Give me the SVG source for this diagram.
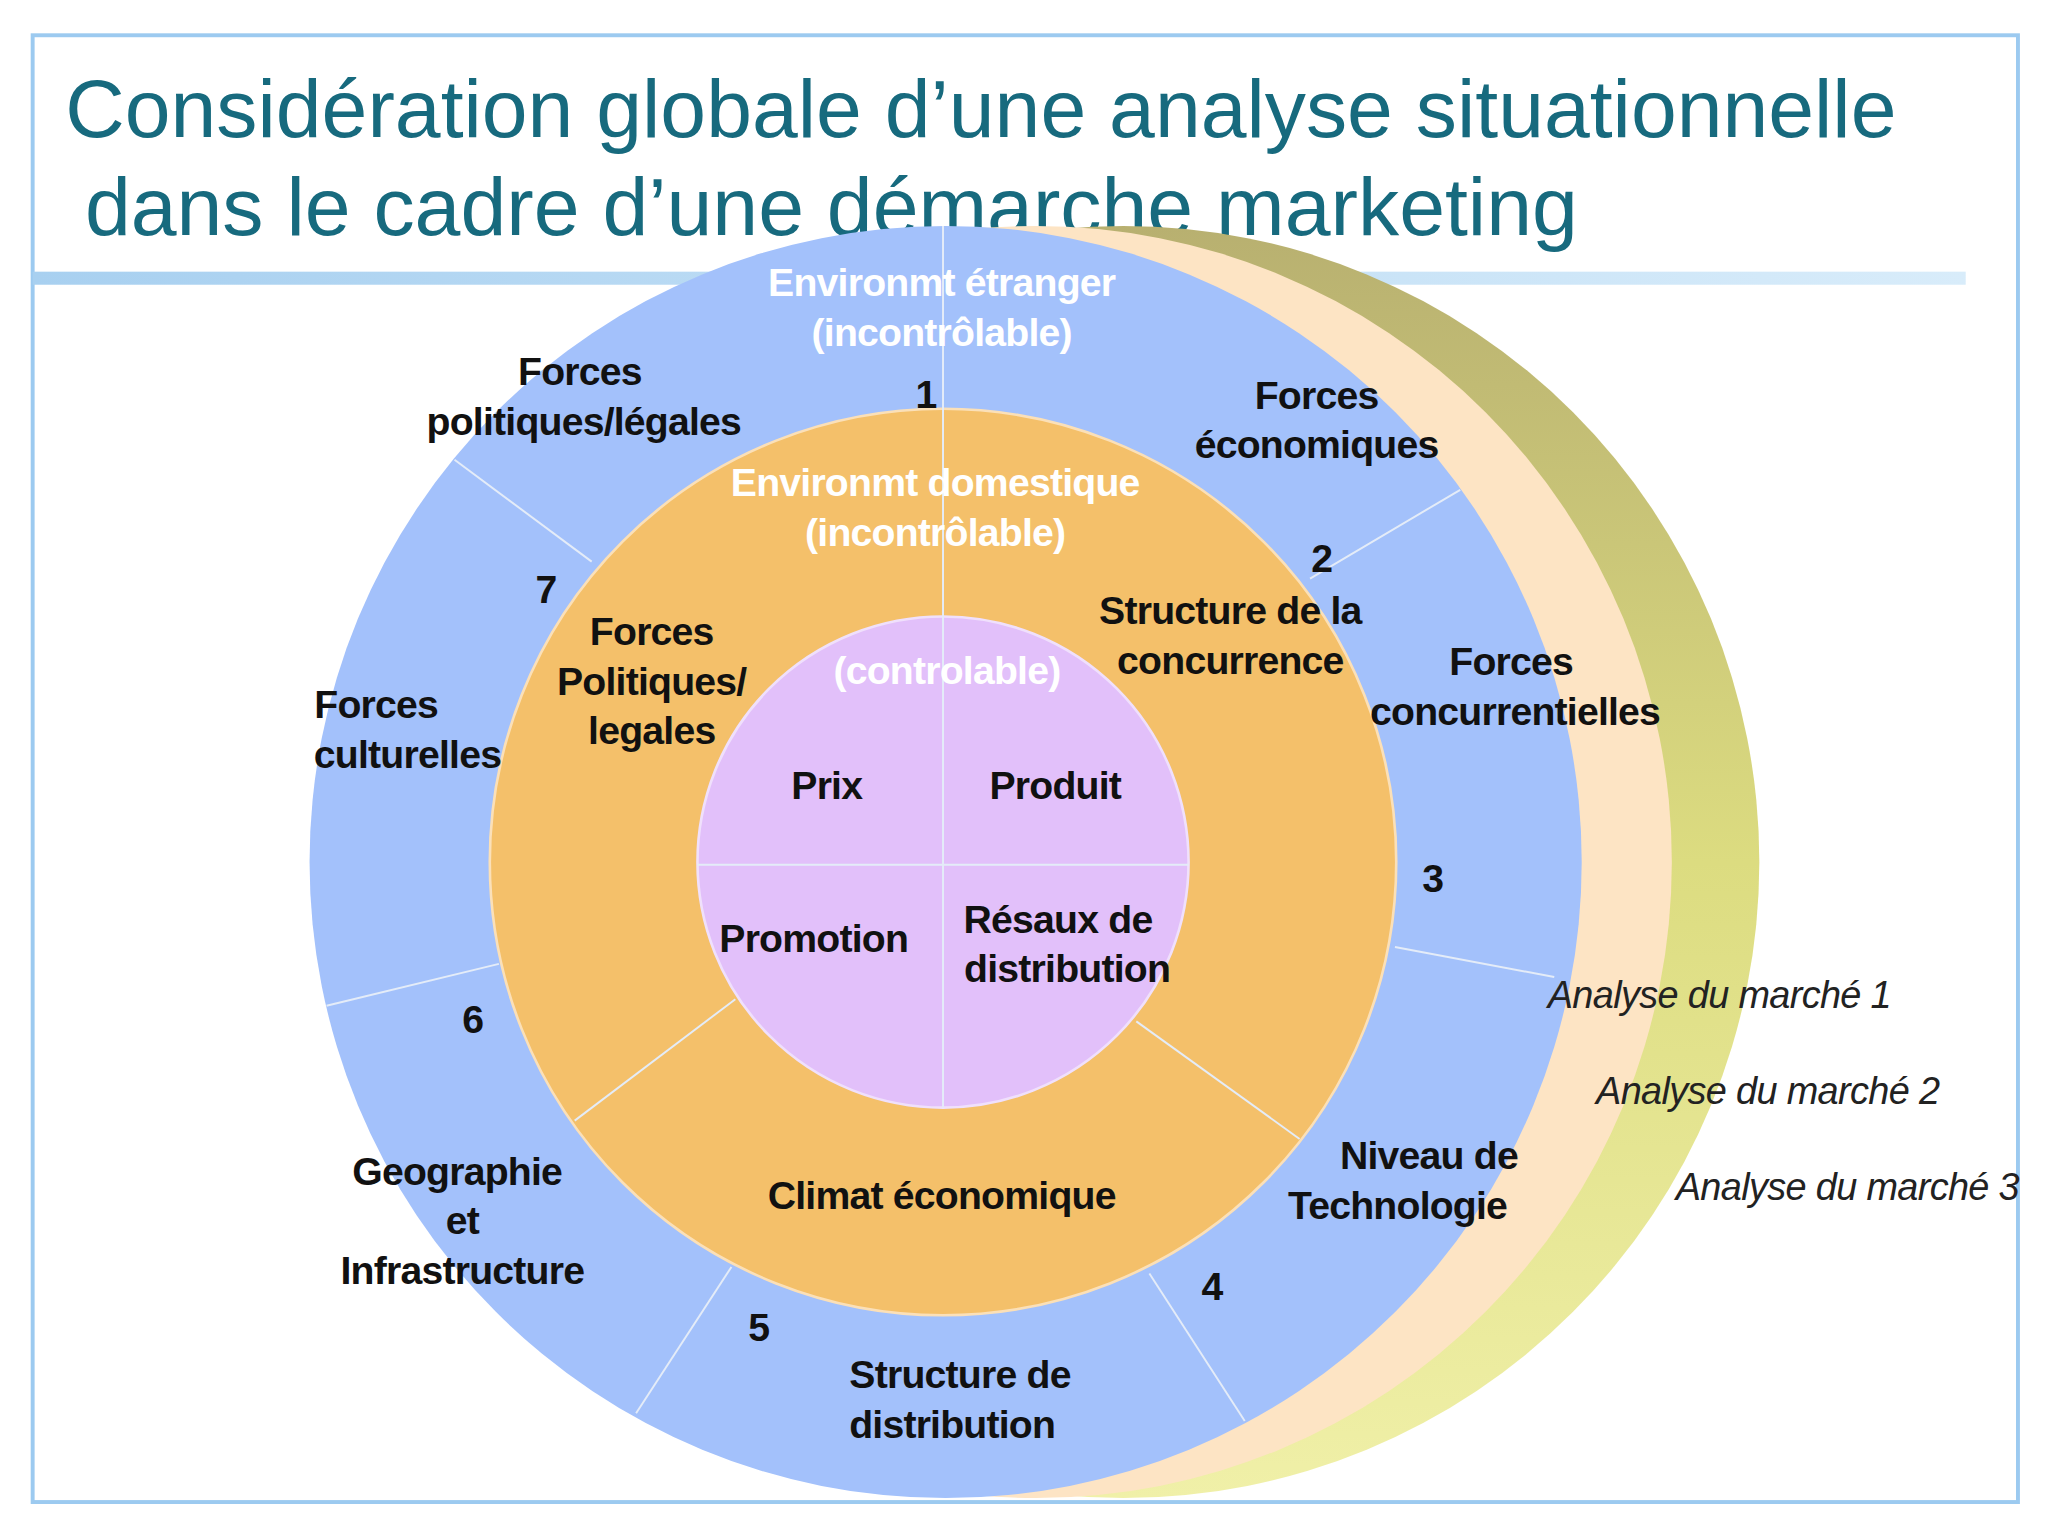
<svg xmlns="http://www.w3.org/2000/svg" width="2048" height="1536" viewBox="0 0 2048 1536">
<defs>
<linearGradient id="yg" x1="0" y1="0" x2="0" y2="1"><stop offset="0" stop-color="#b8b070"/><stop offset="0.5" stop-color="#dcdc80"/><stop offset="1" stop-color="#f0f0a8"/></linearGradient>
<linearGradient id="bar" x1="0" y1="0" x2="1" y2="0"><stop offset="0" stop-color="#a8d0f0"/><stop offset="1" stop-color="#d8ecfa"/></linearGradient>
<style>
.t{font-family:"Liberation Sans Narrow","Liberation Sans",Arial,sans-serif;font-weight:bold;font-size:30px;letter-spacing:-0.6px;fill:#111;text-anchor:middle}
.w{fill:#fff}
.i{font-family:"Liberation Sans Narrow","Liberation Sans",Arial,sans-serif;font-style:italic;font-size:29px;letter-spacing:-0.5px;fill:#222}
.d{stroke:#e4ecf8;stroke-width:1.5;fill:none}
</style>
</defs>
<rect width="2048" height="1536" fill="#fff"/>
<g transform="scale(1.30612)">
<rect x="25" y="27" width="1520" height="1123" fill="none" stroke="#9ccaf0" stroke-width="3"/>
<rect x="25" y="208" width="1480" height="10" fill="url(#bar)"/>
<g id="title" font-family="'Liberation Sans',Arial,sans-serif" font-size="62" fill="#176a7e">
<text x="50" y="105" textLength="1402" lengthAdjust="spacingAndGlyphs">Considération globale d’une analyse situationnelle</text>
<text x="65" y="180" textLength="1143" lengthAdjust="spacingAndGlyphs">dans le cadre d’une démarche marketing</text>
</g>
<g id="back">
<circle cx="860" cy="660" r="487" fill="url(#yg)"/>
<circle cx="793" cy="660" r="487" fill="#fde4c4"/>
</g>
<g id="outer"><circle cx="724" cy="660" r="487" fill="#a3c1fb"/></g>
<g id="middle"><circle cx="722" cy="660" r="347" fill="#f4c06a" stroke="#fbe0b8" stroke-width="2"/></g>
<g id="inner"><circle cx="722" cy="660" r="188" fill="#e2c0fa" stroke="#f0e0fc" stroke-width="2"/></g>
<g id="connectors">
<line class="d" x1="722" y1="173" x2="722" y2="848"/>
<line class="d" x1="534" y1="662" x2="910" y2="662"/>
<line class="d" x1="348" y1="352" x2="453" y2="430"/>
<line class="d" x1="1118" y1="375" x2="1003" y2="443"/>
<line class="d" x1="1068" y1="725" x2="1190" y2="748"/>
<line class="d" x1="880" y1="975" x2="953" y2="1088"/>
<line class="d" x1="560" y1="970" x2="487" y2="1082"/>
<line class="d" x1="250" y1="770" x2="382" y2="738"/>
<line class="d" x1="440" y1="858" x2="563" y2="765"/>
<line class="d" x1="870" y1="782" x2="995" y2="872"/>
</g>
<g id="labels">
<text class="t w" x="721" y="227">Environmt étranger</text>
<text class="t w" x="721" y="265">(incontrôlable)</text>
<text class="t" x="709" y="312">1</text>
<text class="t" x="444" y="295">Forces</text>
<text class="t" x="447" y="333">politiques/légales</text>
<text class="t" x="1008" y="313">Forces</text>
<text class="t" x="1008" y="351">économiques</text>
<text class="t" x="1012" y="438">2</text>
<text class="t w" x="716" y="380">Environmt domestique</text>
<text class="t w" x="716" y="418">(incontrôlable)</text>
<text class="t" x="418" y="462">7</text>
<text class="t" x="499" y="494">Forces</text>
<text class="t" x="499" y="532">Politiques/</text>
<text class="t" x="499" y="570">legales</text>
<text class="t" x="942" y="478">Structure de la</text>
<text class="t" x="942" y="516">concurrence</text>
<text class="t" x="1157" y="517">Forces</text>
<text class="t" x="1160" y="555">concurrentielles</text>
<text class="t" x="288" y="550">Forces</text>
<text class="t" x="312" y="588">culturelles</text>
<text class="t w" x="725" y="524">(controlable)</text>
<text class="t" x="633" y="612">Prix</text>
<text class="t" x="808" y="612">Produit</text>
<text class="t" x="623" y="729">Promotion</text>
<text class="t" x="810" y="714">Résaux de</text>
<text class="t" x="817" y="752">distribution</text>
<text class="t" x="1097" y="683">3</text>
<text class="t" x="362" y="791">6</text>
<text class="t" x="350" y="907">Geographie</text>
<text class="t" x="354" y="945">et</text>
<text class="t" x="354" y="983">Infrastructure</text>
<text class="t" x="721" y="926">Climat économique</text>
<text class="t" x="1094" y="895">Niveau de</text>
<text class="t" x="1070" y="933">Technologie</text>
<text class="t" x="928" y="995">4</text>
<text class="t" x="581" y="1027">5</text>
<text class="t" x="735" y="1063">Structure de</text>
<text class="t" x="729" y="1101">distribution</text>
<text class="i" x="1185" y="772">Analyse du marché 1</text>
<text class="i" x="1222" y="845">Analyse du marché 2</text>
<text class="i" x="1283" y="919">Analyse du marché 3</text>
</g>
</g>
</svg>
